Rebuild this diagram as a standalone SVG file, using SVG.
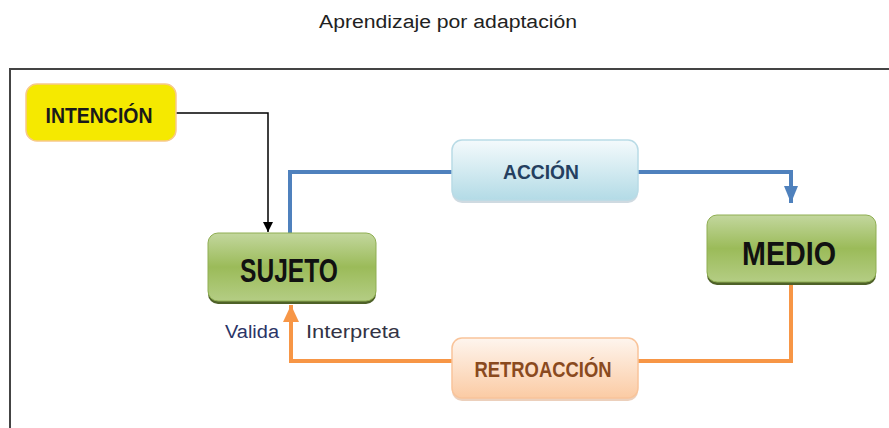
<svg xmlns="http://www.w3.org/2000/svg" width="889" height="428" viewBox="0 0 889 428">
<style>
.t{font-family:"Liberation Sans",Arial,sans-serif;font-weight:bold;text-anchor:middle}
.lbl{font-family:"Liberation Sans",Arial,sans-serif;font-size:18px}
</style>
<defs>
<linearGradient id="gGreen" x1="0" y1="0" x2="0" y2="1">
<stop offset="0" stop-color="#c3d79e"/>
<stop offset="0.5" stop-color="#9bbb59"/>
<stop offset="1" stop-color="#b4cd84"/>
</linearGradient>
<linearGradient id="gBlue" x1="0" y1="0" x2="0" y2="1">
<stop offset="0" stop-color="#f4fafc"/>
<stop offset="1" stop-color="#b3dbe6"/>
</linearGradient>
<linearGradient id="gOrange" x1="0" y1="0" x2="0" y2="1">
<stop offset="0" stop-color="#fef5ee"/>
<stop offset="1" stop-color="#fbcba4"/>
</linearGradient>
<marker id="mBlack" markerWidth="10" markerHeight="10" refX="10" refY="5" orient="auto" markerUnits="userSpaceOnUse">
<path d="M0,0 L10,5 L0,10 Z" fill="#000"/>
</marker>
<marker id="mBlue" markerWidth="18" markerHeight="16" refX="17" refY="8" orient="auto" markerUnits="userSpaceOnUse">
<path d="M0,1 L17,8 L0,15 Z" fill="#4f81bd"/>
</marker>
<marker id="mOrange" markerWidth="18" markerHeight="18" refX="17" refY="9" orient="auto" markerUnits="userSpaceOnUse">
<path d="M0,1 L17,9 L0,17 Z" fill="#f79646"/>
</marker>
</defs>
<rect width="889" height="428" fill="#fff"/>
<text x="448" y="28" class="lbl" text-anchor="middle" fill="#222" textLength="258" lengthAdjust="spacingAndGlyphs">Aprendizaje por adaptación</text>
<path d="M10,430 L10,69 L892,69" fill="none" stroke="#444" stroke-width="2"/>
<g id="connectors" fill="none">
<path d="M175,113 L268,113 L268,232" stroke="#000" stroke-width="1.5" marker-end="url(#mBlack)"/>
<path d="M290,233 L290,172 L791,172 L791,203" stroke="#4f81bd" stroke-width="4" marker-end="url(#mBlue)"/>
<path d="M791,283 L791,361 L291,361 L291,305" stroke="#f79646" stroke-width="4" marker-end="url(#mOrange)"/>
</g>
<g id="intencion">
<rect x="26" y="84" width="150" height="57" rx="11" fill="#f5e900" stroke="#f7c98a" stroke-width="1.5"/>
<text x="99" y="123" class="t" font-size="22" fill="#1a1a1a" textLength="107" lengthAdjust="spacingAndGlyphs">INTENCIÓN</text>
</g>
<g id="accion">
<rect x="452" y="143" width="186" height="60" rx="10" fill="#9fb6c4" opacity="0.5"/>
<rect x="452" y="140" width="186" height="60" rx="10" fill="url(#gBlue)" stroke="#b9dbe6" stroke-width="1.5"/>
<text x="541" y="179" class="t" font-size="21" fill="#243f60" textLength="76" lengthAdjust="spacingAndGlyphs">ACCIÓN</text>
</g>
<g id="sujeto">
<rect x="208" y="236" width="168" height="68" rx="10" fill="#4e6128"/>
<rect x="208" y="233" width="168" height="68" rx="10" fill="url(#gGreen)" stroke="#8fae52" stroke-width="1"/>
<text x="289" y="282" class="t" font-size="33" fill="#111" textLength="98" lengthAdjust="spacingAndGlyphs">SUJETO</text>
</g>
<g id="medio">
<rect x="707" y="218" width="169" height="67" rx="10" fill="#4e6128"/>
<rect x="707" y="215" width="169" height="67" rx="10" fill="url(#gGreen)" stroke="#8fae52" stroke-width="1"/>
<text x="789" y="265" class="t" font-size="33" fill="#111" textLength="94" lengthAdjust="spacingAndGlyphs">MEDIO</text>
</g>
<g id="retroaccion">
<rect x="452" y="341" width="186" height="60" rx="10" fill="#d9a27a" opacity="0.5"/>
<rect x="452" y="338" width="186" height="60" rx="10" fill="url(#gOrange)" stroke="#f9c49a" stroke-width="1.5"/>
<text x="543" y="377" class="t" font-size="22" fill="#8a4a1e" textLength="137" lengthAdjust="spacingAndGlyphs">RETROACCIÓN</text>
</g>
<text x="225" y="338" class="lbl" fill="#2a3466" textLength="54" lengthAdjust="spacingAndGlyphs">Valida</text>
<text x="306" y="338" class="lbl" fill="#333344" textLength="94" lengthAdjust="spacingAndGlyphs">Interpreta</text>
</svg>
